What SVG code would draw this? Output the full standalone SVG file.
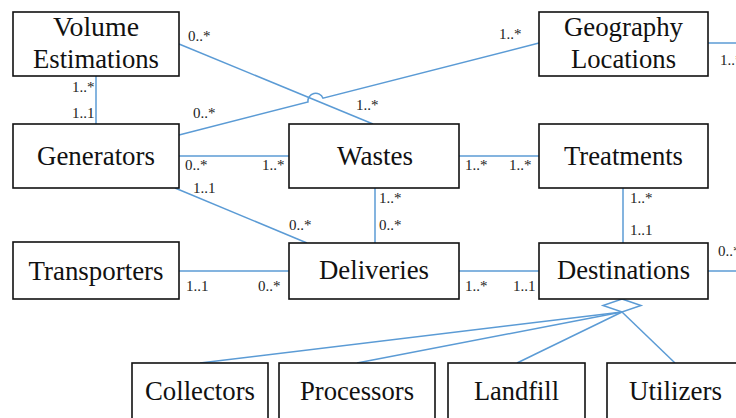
<svg xmlns="http://www.w3.org/2000/svg" width="736" height="418" viewBox="0 0 736 418">
<style>
.box{fill:#fff;stroke:#111;stroke-width:1.6}
.t{font-family:"Liberation Serif","Times New Roman",serif;font-size:28px;fill:#111;text-anchor:middle}
.m{font-family:"Liberation Serif","Times New Roman",serif;font-size:15px;fill:#222}
.c{fill:none;stroke:#5B9BD5;stroke-width:1.5}
</style>
<rect width="736" height="418" fill="#fff"/>
<g id="connectors">
<line class="c" x1="96" y1="76" x2="96" y2="124"/>
<line class="c" x1="179" y1="44" x2="373" y2="124"/>
<path class="c" d="M179 135 L308 102 A7.8 7.8 0 0 1 323 98.2 L539 43"/>
<line class="c" x1="179" y1="156" x2="289" y2="156"/>
<line class="c" x1="175" y1="188" x2="307" y2="243"/>
<line class="c" x1="179" y1="271" x2="289" y2="271"/>
<line class="c" x1="375" y1="188" x2="375" y2="243"/>
<line class="c" x1="459" y1="156" x2="539" y2="156"/>
<line class="c" x1="623" y1="188" x2="623" y2="243"/>
<line class="c" x1="459" y1="271" x2="539" y2="271"/>
<line class="c" x1="708" y1="43" x2="736" y2="43"/>
<line class="c" x1="708" y1="271" x2="736" y2="271"/>
<polygon class="c" points="622,299 641,305.5 622,312 603,305.5"/>
<line class="c" x1="622" y1="312" x2="200" y2="363"/>
<line class="c" x1="622" y1="312" x2="357" y2="363"/>
<line class="c" x1="622" y1="312" x2="517" y2="363"/>
<line class="c" x1="622" y1="312" x2="675" y2="363"/>
<text class="m" x="188" y="41">0..*</text>
<text class="m" x="72" y="92">1..*</text>
<text class="m" x="72" y="118">1..1</text>
<text class="m" x="193" y="118">0..*</text>
<text class="m" x="356" y="110">1..*</text>
<text class="m" x="499" y="39">1..*</text>
<text class="m" x="720" y="65">1..*</text>
<text class="m" x="185" y="170">0..*</text>
<text class="m" x="262" y="170">1..*</text>
<text class="m" x="193" y="193">1..1</text>
<text class="m" x="289" y="230">0..*</text>
<text class="m" x="186" y="291">1..1</text>
<text class="m" x="258" y="291">0..*</text>
<text class="m" x="379" y="203">1..*</text>
<text class="m" x="379" y="230">0..*</text>
<text class="m" x="465" y="170">1..*</text>
<text class="m" x="509" y="170">1..*</text>
<text class="m" x="630" y="203">1..*</text>
<text class="m" x="630" y="235">1..1</text>
<text class="m" x="465" y="291">1..*</text>
<text class="m" x="513" y="291">1..1</text>
<text class="m" x="718" y="256">0..*</text>
</g>
<g id="volume"><rect class="box" x="13" y="12" width="166" height="64"/><text class="t" x="96" y="36" textLength="86" lengthAdjust="spacingAndGlyphs">Volume</text><text class="t" x="96" y="68" textLength="126" lengthAdjust="spacingAndGlyphs">Estimations</text></g>
<g id="geography"><rect class="box" x="539" y="12" width="169" height="64"/><text class="t" x="623.5" y="36" textLength="119" lengthAdjust="spacingAndGlyphs">Geography</text><text class="t" x="623.5" y="68" textLength="105" lengthAdjust="spacingAndGlyphs">Locations</text></g>
<g id="generators"><rect class="box" x="13" y="124" width="166" height="64"/><text class="t" x="96" y="165" textLength="118" lengthAdjust="spacingAndGlyphs">Generators</text></g>
<g id="wastes"><rect class="box" x="289" y="124" width="170" height="64"/><text class="t" x="375" y="165" textLength="76" lengthAdjust="spacingAndGlyphs">Wastes</text></g>
<g id="treatments"><rect class="box" x="539" y="124" width="169" height="64"/><text class="t" x="623.5" y="165" textLength="119" lengthAdjust="spacingAndGlyphs">Treatments</text></g>
<g id="transporters"><rect class="box" x="13" y="242" width="166" height="57"/><text class="t" x="96" y="280" textLength="135" lengthAdjust="spacingAndGlyphs">Transporters</text></g>
<g id="deliveries"><rect class="box" x="289" y="243" width="170" height="56"/><text class="t" x="374" y="279" textLength="110" lengthAdjust="spacingAndGlyphs">Deliveries</text></g>
<g id="destinations"><rect class="box" x="539" y="243" width="169" height="56"/><text class="t" x="623.5" y="279" textLength="133" lengthAdjust="spacingAndGlyphs">Destinations</text></g>
<g id="collectors"><rect class="box" x="132" y="363" width="136" height="70"/><text class="t" x="200" y="400" textLength="110" lengthAdjust="spacingAndGlyphs">Collectors</text></g>
<g id="processors"><rect class="box" x="279" y="363" width="156" height="70"/><text class="t" x="357" y="400" textLength="114" lengthAdjust="spacingAndGlyphs">Processors</text></g>
<g id="landfill"><rect class="box" x="448" y="363" width="137" height="70"/><text class="t" x="516.5" y="400" textLength="85" lengthAdjust="spacingAndGlyphs">Landfill</text></g>
<g id="utilizers"><rect class="box" x="607" y="363" width="136" height="70"/><text class="t" x="675.5" y="400" textLength="93" lengthAdjust="spacingAndGlyphs">Utilizers</text></g>
</svg>
